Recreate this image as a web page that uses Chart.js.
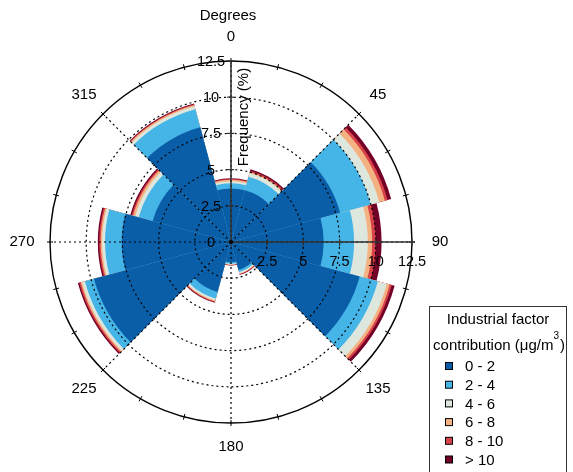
<!DOCTYPE html>
<html>
<head>
<meta charset="utf-8">
<script src="https://cdn.jsdelivr.net/npm/chart.js@4/dist/chart.umd.min.js"></script>
<style>
  html, body { margin: 0; padding: 0; background: #fff; }
  #wrap { width: 573px; height: 472px; }
</style>
</head>
<body>
<div id="wrap"><canvas id="c" width="573" height="472"></canvas></div>
<script>
// Wind direction sectors (degrees, centre of each 30° sector)
const directions = ['0', '30', '60', '90', '120', '150', '180', '210', '240', '270', '300', '330'];
// Concentration bins (legend)
const bins = ['0 - 2', '2 - 4', '4 - 6', '6 - 8', '8 - 10', '> 10'];
const binColors = ['#0a5ea8', '#45b4e6', '#dde7dd', '#f4b283', '#d8434a', '#730026'];
// Frequency (%) contributed by each bin in each sector
const freq0to2   = [3.7, 3.7, 7.8, 6.4, 9.2, 2.0, 1.4, 3.57, 9.8, 7.55, 5.6, 8.2];
const freq2to4   = [0.35, 0.97, 2.2, 2.1, 1.3, 0.15, 0.1, 0.48, 0.65, 1.15, 1.0, 1.3];
const freq4to6   = [0.15, 0.27, 0.6, 0.95, 0.65, 0.1, 0.05, 0.14, 0.2, 0.2, 0.25, 0.2];
const freq6to8   = [0.1, 0.06, 0.4, 0.3, 0.2, 0.03, 0.03, 0.06, 0.1, 0.1, 0.15, 0.1];
const freq8to10  = [0.05, 0.1, 0.2, 0.25, 0.15, 0.04, 0.02, 0.05, 0.1, 0.1, 0.1, 0.05];
const freqOver10 = [0.05, 0.1, 0.25, 0.4, 0.2, 0.03, 0.03, 0.05, 0.1, 0.1, 0.1, 0.05];
// Axis labels
const radialTicks = [0, 2.5, 5, 7.5, 10, 12.5];
const angleLabels = [0, 45, 90, 135, 180, 225, 270, 315];

const series = [freq0to2, freq2to4, freq4to6, freq6to8, freq8to10, freqOver10];
const rMax = radialTicks[radialTicks.length - 1];
const FONT = '"Liberation Sans", Arial, sans-serif';

// stacked (cumulative) radii; first dataset drawn on top
const running = directions.map(() => 0);
const datasets = series.map((vals, i) => {
  const cum = vals.map((v, j) => (running[j] = +(running[j] + v).toFixed(3)));
  return {
    label: bins[i],
    data: cum,
    backgroundColor: binColors[i],
    borderWidth: 0
  };
});

const deg2rad = d => d * Math.PI / 180;

const decor = {
  id: 'decor',
  afterDatasetsDraw(chart) {
    const s = chart.scales.r;
    const ctx = chart.ctx;
    const cx = s.xCenter, cy = s.yCenter;
    const rad = v => s.getDistanceFromCenterForValue(v);
    const R = rad(rMax);
    const pt = (a, r) => [cx + r * Math.sin(deg2rad(a)), cy - r * Math.cos(deg2rad(a))];
    ctx.save();
    // dotted grid circles
    ctx.strokeStyle = '#000';
    ctx.lineWidth = 1.2;
    ctx.setLineDash([2, 3]);
    radialTicks.forEach(v => {
      if (v > 0 && v < rMax) {
        ctx.beginPath(); ctx.arc(cx, cy, rad(v), 0, 2 * Math.PI); ctx.stroke();
      }
    });
    // dotted spokes
    angleLabels.forEach(a => {
      const [x, y] = pt(a, R);
      ctx.beginPath(); ctx.moveTo(cx, cy); ctx.lineTo(x, y); ctx.stroke();
    });
    ctx.setLineDash([]);
    // outer circle
    ctx.lineWidth = 1.4;
    ctx.beginPath(); ctx.arc(cx, cy, R, 0, 2 * Math.PI); ctx.stroke();
    // small ticks on outer circle every 15 degrees
    ctx.lineWidth = 1;
    for (let a = 0; a < 360; a += 15) {
      const [x1, y1] = pt(a, R - 3), [x2, y2] = pt(a, R + 3);
      ctx.beginPath(); ctx.moveTo(x1, y1); ctx.lineTo(x2, y2); ctx.stroke();
    }
    // axis lines (north and east)
    ctx.strokeStyle = '#333';
    ctx.lineWidth = 1.6;
    ctx.beginPath(); ctx.moveTo(cx, cy); ctx.lineTo(cx, cy - R - 1); ctx.stroke();
    ctx.beginPath(); ctx.moveTo(cx, cy); ctx.lineTo(cx + R + 3, cy); ctx.stroke();
    // axis ticks
    ctx.lineWidth = 1.2;
    radialTicks.forEach(v => {
      const d = rad(v);
      ctx.beginPath(); ctx.moveTo(cx - 4, cy - d); ctx.lineTo(cx + 3, cy - d); ctx.stroke();
      ctx.beginPath(); ctx.moveTo(cx + d, cy - 3); ctx.lineTo(cx + d, cy + 4); ctx.stroke();
    });
    // centre dot
    ctx.fillStyle = '#000';
    ctx.beginPath(); ctx.arc(cx, cy, 2, 0, 2 * Math.PI); ctx.fill();
    // tick labels
    ctx.font = '14.5px ' + FONT;
    ctx.fillStyle = '#000';
    ctx.textAlign = 'center';
    ctx.textBaseline = 'middle';
    radialTicks.forEach(v => {
      const d = rad(v);
      const t = String(v);
      ctx.fillText(t, cx - 20, cy - d + 1);
      if (v > 0) ctx.fillText(t, cx + d, cy + 20);
    });
    // angle labels
    ctx.font = '15px ' + FONT;
    angleLabels.forEach(a => {
      const r = R + 24 + 4 * Math.abs(Math.sin(deg2rad(a)));
      const [x, y] = pt(a, r);
      ctx.fillText(String(a), x, y);
    });
    ctx.fillText('Degrees', cx - 3, cy - R - 45);
    // radial axis title
    ctx.save();
    ctx.translate(cx + 13, cy - 125);
    ctx.rotate(-Math.PI / 2);
    ctx.fillText('Frequency (%)', 0, 0);
    ctx.restore();
    ctx.restore();
  },
  afterDraw(chart) {
    const ctx = chart.ctx;
    ctx.save();
    // legend box
    const bx = 429.5, by = 306.5, bw = 137, bh = 175;
    ctx.fillStyle = '#fff';
    ctx.fillRect(bx, by, bw, bh);
    ctx.strokeStyle = '#333';
    ctx.lineWidth = 1;
    ctx.strokeRect(bx, by, bw, bh);
    ctx.fillStyle = '#000';
    ctx.font = '15px ' + FONT;
    ctx.textBaseline = 'middle';
    ctx.textAlign = 'center';
    ctx.fillText('Industrial factor', 498, 320);
    // second title line with superscript
    const p1 = 'contribution (\u03bcg/m', p3 = '3', p4 = ')';
    ctx.font = '15px ' + FONT;
    const w1 = ctx.measureText(p1).width, w4 = ctx.measureText(p4).width;
    ctx.font = '10px ' + FONT;
    const w3 = ctx.measureText(p3).width;
    const total = w1 + w3 + w4 + 1;
    let x = 499 - total / 2;
    ctx.textAlign = 'left';
    ctx.font = '15px ' + FONT;
    ctx.fillText(p1, x, 346);
    x += w1;
    ctx.font = '10px ' + FONT;
    ctx.fillText(p3, x, 336);
    x += w3 + 1;
    ctx.font = '15px ' + FONT;
    ctx.fillText(p4, x, 346);
    // legend items
    chart.data.datasets.forEach((ds, i) => {
      const y = 366 + i * 18.7;
      ctx.fillStyle = ds.backgroundColor;
      ctx.fillRect(445.5, y - 3.5, 7, 7);
      ctx.strokeStyle = '#000';
      ctx.strokeRect(445.5, y - 3.5, 7, 7);
      ctx.fillStyle = '#000';
      ctx.font = '15px ' + FONT;
      ctx.fillText(ds.label, 465, y + 1);
    });
    ctx.restore();
  }
};

new Chart(document.getElementById('c'), {
  type: 'polarArea',
  data: { labels: directions, datasets: datasets },
  options: {
    responsive: false,
    animation: false,
    events: [],
    layout: { padding: { left: 50, top: 61, right: 161, bottom: 49 } },
    plugins: { legend: { display: false }, tooltip: { enabled: false } },
    elements: { arc: { borderWidth: 0 } },
    scales: {
      r: {
        display: false,
        min: 0,
        max: rMax,
        startAngle: -15
      }
    }
  },
  plugins: [decor]
});
</script>
</body>
</html>
